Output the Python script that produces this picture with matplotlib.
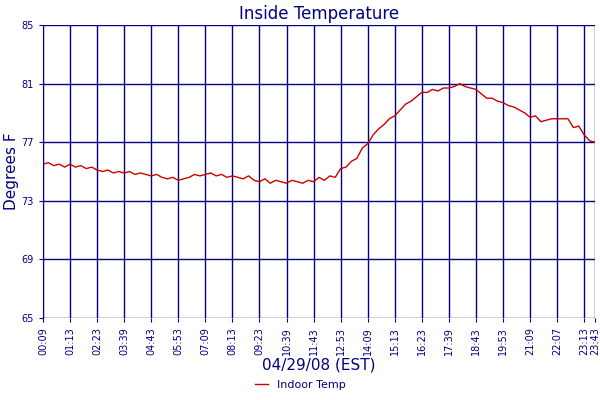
import numpy as np
import matplotlib
matplotlib.use('Agg')
import matplotlib.pyplot as plt

tick_labels = ['00:09', '01:13', '02:23', '03:39', '04:43', '05:53', '07:09', '08:13',
               '09:23', '10:39', '11:43', '12:53', '14:09', '15:13', '16:23', '17:39',
               '18:43', '19:53', '21:09', '22:07', '23:13', '23:43']
tick_samples = [0, 5, 10, 15, 20, 25, 30, 35, 40, 45, 50, 55, 60, 65, 70, 75,
                80, 85, 90, 95, 100, 102]

indoor_temp = [
    75.5, 75.6, 75.4, 75.5, 75.3,
    75.5, 75.3, 75.4, 75.2, 75.3,
    75.1, 75.0, 75.1, 74.9, 75.0,
    74.9, 75.0, 74.8, 74.9, 74.8,
    74.7, 74.8, 74.6, 74.5, 74.6,
    74.4, 74.5, 74.6, 74.8, 74.7,
    74.8, 74.9, 74.7, 74.8, 74.6,
    74.7, 74.6, 74.5, 74.7, 74.4,
    74.3, 74.5, 74.2, 74.4, 74.3,
    74.2, 74.4, 74.3, 74.2, 74.4,
    74.3, 74.6, 74.4, 74.7, 74.6,
    75.2, 75.3, 75.7, 75.9, 76.6,
    76.9, 77.5, 77.9, 78.2, 78.6,
    78.8, 79.2, 79.6, 79.8, 80.1,
    80.4, 80.4, 80.6, 80.5, 80.7,
    80.7, 80.8, 81.0, 80.8, 80.7,
    80.6, 80.3, 80.0, 80.0, 79.8,
    79.7, 79.5, 79.4, 79.2, 79.0,
    78.7, 78.8, 78.4, 78.5, 78.6,
    78.6, 78.6, 78.6, 78.0, 78.1,
    77.5, 77.1, 77.0,
]

navy = '#000080'

fig = plt.figure(figsize=(6, 4), dpi=100)
ax = fig.add_axes([43/600, 1 - 318/400, 552/600, 293/400])

ax.plot(range(len(indoor_temp)), indoor_temp, color='#cc0000', lw=1, label='Indoor Temp')

ax.set_xlim(0, len(indoor_temp) - 1)
ax.set_ylim(65, 85)
ax.set_yticks([65, 69, 73, 77, 81, 85])
ax.set_xticks(tick_samples)
ax.set_xticklabels(tick_labels, rotation=90)
ax.tick_params(colors=navy, labelsize=7, length=3)
ax.grid(True, color=navy, lw=1)
for s in ax.spines.values():
    s.set_visible(False)
ax.spines['left'].set_visible(True)
ax.spines['left'].set_color(navy)

ax.set_title('Inside Temperature', color=navy, fontsize=12, pad=4)
ax.set_ylabel('Degrees F', color=navy, fontsize=11, labelpad=2)
ax.set_xlabel('04/29/08 (EST)', color=navy, fontsize=11, labelpad=2)

fig.legend(loc='lower center', bbox_to_anchor=(0.5, 0.0), frameon=False, fontsize=8,
           handlelength=1.2, labelcolor=navy)

fig.savefig('out.png', dpi=100)
